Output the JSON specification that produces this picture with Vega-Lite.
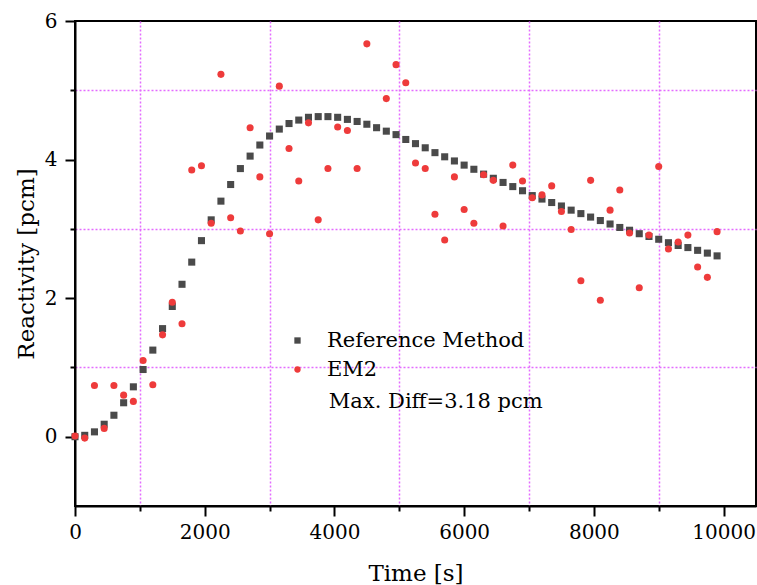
{
  "$schema": "https://vega.github.io/schema/vega-lite/v6.json",
  "width": 681,
  "height": 485,
  "autosize": {"type": "none"},
  "padding": {"left": 75, "top": 21, "right": 1, "bottom": 79},
  "background": "white",
  "config": {
    "font": "DejaVu Serif",
    "view": {"stroke": "black", "strokeWidth": 2},
    "axis": {
      "domainColor": "black",
      "domainWidth": 2,
      "tickColor": "black",
      "tickWidth": 2,
      "labelFont": "DejaVu Serif",
      "labelFontSize": 20,
      "labelColor": "black",
      "labelOverlap": false,
      "labelFlush": false,
      "titleFont": "DejaVu Serif",
      "titleFontSize": 23,
      "titleFontWeight": "normal",
      "titleColor": "black",
      "gridColor": "#e36cff",
      "gridDash": [2, 2],
      "gridWidth": 1.5
    }
  },
  "data": {
    "values": [
      {"t": 0, "value": 0.0, "method": "Reference Method"},
      {"t": 150, "value": 0.02, "method": "Reference Method"},
      {"t": 300, "value": 0.07, "method": "Reference Method"},
      {"t": 450, "value": 0.18, "method": "Reference Method"},
      {"t": 600, "value": 0.31, "method": "Reference Method"},
      {"t": 750, "value": 0.49, "method": "Reference Method"},
      {"t": 900, "value": 0.72, "method": "Reference Method"},
      {"t": 1050, "value": 0.97, "method": "Reference Method"},
      {"t": 1200, "value": 1.25, "method": "Reference Method"},
      {"t": 1350, "value": 1.56, "method": "Reference Method"},
      {"t": 1500, "value": 1.88, "method": "Reference Method"},
      {"t": 1650, "value": 2.2, "method": "Reference Method"},
      {"t": 1800, "value": 2.52, "method": "Reference Method"},
      {"t": 1950, "value": 2.83, "method": "Reference Method"},
      {"t": 2100, "value": 3.13, "method": "Reference Method"},
      {"t": 2250, "value": 3.4, "method": "Reference Method"},
      {"t": 2400, "value": 3.64, "method": "Reference Method"},
      {"t": 2550, "value": 3.87, "method": "Reference Method"},
      {"t": 2700, "value": 4.05, "method": "Reference Method"},
      {"t": 2850, "value": 4.21, "method": "Reference Method"},
      {"t": 3000, "value": 4.34, "method": "Reference Method"},
      {"t": 3150, "value": 4.44, "method": "Reference Method"},
      {"t": 3300, "value": 4.52, "method": "Reference Method"},
      {"t": 3450, "value": 4.57, "method": "Reference Method"},
      {"t": 3600, "value": 4.61, "method": "Reference Method"},
      {"t": 3750, "value": 4.62, "method": "Reference Method"},
      {"t": 3900, "value": 4.62, "method": "Reference Method"},
      {"t": 4050, "value": 4.61, "method": "Reference Method"},
      {"t": 4200, "value": 4.58, "method": "Reference Method"},
      {"t": 4350, "value": 4.55, "method": "Reference Method"},
      {"t": 4500, "value": 4.51, "method": "Reference Method"},
      {"t": 4650, "value": 4.46, "method": "Reference Method"},
      {"t": 4800, "value": 4.41, "method": "Reference Method"},
      {"t": 4950, "value": 4.36, "method": "Reference Method"},
      {"t": 5100, "value": 4.29, "method": "Reference Method"},
      {"t": 5250, "value": 4.23, "method": "Reference Method"},
      {"t": 5400, "value": 4.17, "method": "Reference Method"},
      {"t": 5550, "value": 4.1, "method": "Reference Method"},
      {"t": 5700, "value": 4.04, "method": "Reference Method"},
      {"t": 5850, "value": 3.98, "method": "Reference Method"},
      {"t": 6000, "value": 3.92, "method": "Reference Method"},
      {"t": 6150, "value": 3.86, "method": "Reference Method"},
      {"t": 6300, "value": 3.79, "method": "Reference Method"},
      {"t": 6450, "value": 3.73, "method": "Reference Method"},
      {"t": 6600, "value": 3.67, "method": "Reference Method"},
      {"t": 6750, "value": 3.61, "method": "Reference Method"},
      {"t": 6900, "value": 3.55, "method": "Reference Method"},
      {"t": 7050, "value": 3.48, "method": "Reference Method"},
      {"t": 7200, "value": 3.43, "method": "Reference Method"},
      {"t": 7350, "value": 3.38, "method": "Reference Method"},
      {"t": 7500, "value": 3.33, "method": "Reference Method"},
      {"t": 7650, "value": 3.27, "method": "Reference Method"},
      {"t": 7800, "value": 3.22, "method": "Reference Method"},
      {"t": 7950, "value": 3.17, "method": "Reference Method"},
      {"t": 8100, "value": 3.12, "method": "Reference Method"},
      {"t": 8250, "value": 3.07, "method": "Reference Method"},
      {"t": 8400, "value": 3.02, "method": "Reference Method"},
      {"t": 8550, "value": 2.98, "method": "Reference Method"},
      {"t": 8700, "value": 2.93, "method": "Reference Method"},
      {"t": 8850, "value": 2.89, "method": "Reference Method"},
      {"t": 9000, "value": 2.85, "method": "Reference Method"},
      {"t": 9150, "value": 2.8, "method": "Reference Method"},
      {"t": 9300, "value": 2.76, "method": "Reference Method"},
      {"t": 9450, "value": 2.73, "method": "Reference Method"},
      {"t": 9600, "value": 2.69, "method": "Reference Method"},
      {"t": 9750, "value": 2.65, "method": "Reference Method"},
      {"t": 9900, "value": 2.61, "method": "Reference Method"},
      {"t": 0, "value": 0.01, "method": "EM2"},
      {"t": 150, "value": -0.02, "method": "EM2"},
      {"t": 300, "value": 0.74, "method": "EM2"},
      {"t": 450, "value": 0.12, "method": "EM2"},
      {"t": 600, "value": 0.74, "method": "EM2"},
      {"t": 750, "value": 0.6, "method": "EM2"},
      {"t": 900, "value": 0.51, "method": "EM2"},
      {"t": 1050, "value": 1.1, "method": "EM2"},
      {"t": 1200, "value": 0.75, "method": "EM2"},
      {"t": 1350, "value": 1.47, "method": "EM2"},
      {"t": 1500, "value": 1.94, "method": "EM2"},
      {"t": 1650, "value": 1.63, "method": "EM2"},
      {"t": 1800, "value": 3.85, "method": "EM2"},
      {"t": 1950, "value": 3.91, "method": "EM2"},
      {"t": 2100, "value": 3.08, "method": "EM2"},
      {"t": 2250, "value": 5.23, "method": "EM2"},
      {"t": 2400, "value": 3.16, "method": "EM2"},
      {"t": 2550, "value": 2.97, "method": "EM2"},
      {"t": 2700, "value": 4.46, "method": "EM2"},
      {"t": 2850, "value": 3.75, "method": "EM2"},
      {"t": 3000, "value": 2.93, "method": "EM2"},
      {"t": 3150, "value": 5.06, "method": "EM2"},
      {"t": 3300, "value": 4.16, "method": "EM2"},
      {"t": 3450, "value": 3.69, "method": "EM2"},
      {"t": 3600, "value": 4.53, "method": "EM2"},
      {"t": 3750, "value": 3.13, "method": "EM2"},
      {"t": 3900, "value": 3.87, "method": "EM2"},
      {"t": 4050, "value": 4.47, "method": "EM2"},
      {"t": 4200, "value": 4.42, "method": "EM2"},
      {"t": 4350, "value": 3.87, "method": "EM2"},
      {"t": 4500, "value": 5.67, "method": "EM2"},
      {"t": 4800, "value": 4.88, "method": "EM2"},
      {"t": 4950, "value": 5.37, "method": "EM2"},
      {"t": 5100, "value": 5.11, "method": "EM2"},
      {"t": 5250, "value": 3.95, "method": "EM2"},
      {"t": 5400, "value": 3.87, "method": "EM2"},
      {"t": 5550, "value": 3.21, "method": "EM2"},
      {"t": 5700, "value": 2.84, "method": "EM2"},
      {"t": 5850, "value": 3.75, "method": "EM2"},
      {"t": 6000, "value": 3.28, "method": "EM2"},
      {"t": 6150, "value": 3.08, "method": "EM2"},
      {"t": 6300, "value": 3.78, "method": "EM2"},
      {"t": 6450, "value": 3.7, "method": "EM2"},
      {"t": 6600, "value": 3.04, "method": "EM2"},
      {"t": 6750, "value": 3.92, "method": "EM2"},
      {"t": 6900, "value": 3.69, "method": "EM2"},
      {"t": 7050, "value": 3.45, "method": "EM2"},
      {"t": 7200, "value": 3.49, "method": "EM2"},
      {"t": 7350, "value": 3.62, "method": "EM2"},
      {"t": 7500, "value": 3.25, "method": "EM2"},
      {"t": 7650, "value": 2.99, "method": "EM2"},
      {"t": 7800, "value": 2.25, "method": "EM2"},
      {"t": 7950, "value": 3.7, "method": "EM2"},
      {"t": 8100, "value": 1.97, "method": "EM2"},
      {"t": 8250, "value": 3.27, "method": "EM2"},
      {"t": 8400, "value": 3.56, "method": "EM2"},
      {"t": 8550, "value": 2.94, "method": "EM2"},
      {"t": 8700, "value": 2.15, "method": "EM2"},
      {"t": 8850, "value": 2.91, "method": "EM2"},
      {"t": 9000, "value": 3.9, "method": "EM2"},
      {"t": 9150, "value": 2.71, "method": "EM2"},
      {"t": 9300, "value": 2.81, "method": "EM2"},
      {"t": 9450, "value": 2.91, "method": "EM2"},
      {"t": 9600, "value": 2.45, "method": "EM2"},
      {"t": 9750, "value": 2.3, "method": "EM2"},
      {"t": 9900, "value": 2.96, "method": "EM2"}
    ]
  },
  "layer": [
    {
      "mark": {"type": "point", "filled": true, "size": 50, "opacity": 1, "strokeWidth": 0},
      "encoding": {
        "x": {
          "field": "t",
          "type": "quantitative",
          "scale": {"domain": [0, 10500], "nice": false, "zero": false},
          "axis": {
            "title": "Time [s]",
            "values": [0, 1000, 2000, 3000, 4000, 5000, 6000, 7000, 8000, 9000, 10000],
            "format": "d",
            "labelExpr": "datum.value % 2000 === 0 ? datum.label : ''",
            "grid": true,
            "gridOpacity": {"condition": {"test": "datum.value % 2000 === 0", "value": 0}, "value": 1},
            "tickSize": {"condition": {"test": "datum.value % 2000 === 0", "value": 10}, "value": 5},
            "labelPadding": 6,
            "titlePadding": 20
          }
        },
        "y": {
          "field": "value",
          "type": "quantitative",
          "scale": {"domain": [-1, 6], "nice": false, "zero": false},
          "axis": {
            "title": "Reactivity [pcm]",
            "values": [0, 1, 2, 3, 4, 5, 6],
            "format": "d",
            "labelExpr": "datum.value % 2 === 0 ? datum.label : ''",
            "grid": true,
            "gridOpacity": {"condition": {"test": "datum.value % 2 === 0", "value": 0}, "value": 1},
            "tickSize": {"condition": {"test": "datum.value % 2 === 0", "value": 10}, "value": 5},
            "labelPadding": 8,
            "titlePadding": 6
          }
        },
        "color": {
          "field": "method",
          "type": "nominal",
          "scale": {"domain": ["Reference Method", "EM2"], "range": ["#4a4a4a", "#ee3b3b"]},
          "legend": {
            "orient": "none",
            "legendX": 212,
            "legendY": 309,
            "title": null,
            "labelFont": "DejaVu Serif",
            "labelFontSize": 21,
            "labelColor": "black",
            "labelLimit": 400,
            "symbolSize": 40,
            "labelOffset": 19,
            "rowPadding": 7,
            "padding": 0,
            "symbolStrokeWidth": 0
          }
        },
        "shape": {
          "field": "method",
          "type": "nominal",
          "scale": {"domain": ["Reference Method", "EM2"], "range": ["square", "circle"]},
          "legend": {
            "orient": "none",
            "legendX": 212,
            "legendY": 309,
            "title": null
          }
        }
      }
    },
    {
      "data": {"values": [{"label": "Max. Diff=3.18 pcm"}]},
      "mark": {"type": "text", "align": "left", "baseline": "middle", "fontSize": 21, "font": "DejaVu Serif", "color": "black"},
      "encoding": {
        "x": {"datum": 3914, "type": "quantitative"},
        "y": {"datum": 0.5, "type": "quantitative"},
        "text": {"field": "label", "type": "nominal"}
      }
    }
  ]
}
